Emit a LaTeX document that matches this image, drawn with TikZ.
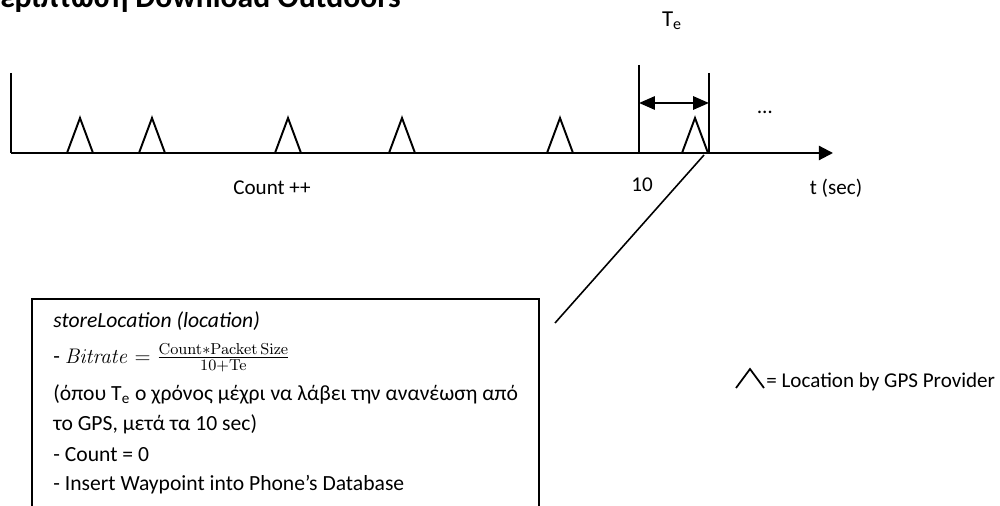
\documentclass[tikz,border=0pt]{standalone}
\usepackage[no-math]{fontspec}
\setmainfont{Carlito}
\usetikzlibrary{arrows.meta}
\begin{document}
\begin{tikzpicture}[x=0.02cm,y=-0.02cm,
  line/.style={line width=1.2pt},
  tri/.style={line width=1.1pt, line join=miter},
  lbl/.style={inner sep=0pt, font=\fontsize{12}{14}\selectfont},
  boxtxt/.style={inner sep=0pt, anchor=base west, font=\fontsize{12.3}{14}\selectfont}]
\useasboundingbox (0,0) rectangle (1000,506);
\clip (0,0) rectangle (1000,506);
% title
\node[inner sep=0pt, anchor=base west, font=\bfseries\fontsize{18}{20}\selectfont] (title) at (0,8) {ερίπτωση Download Outdoors};
% axes
\coordinate (o) at (11,153);
\coordinate (ytop) at (11,73);
\coordinate (xend) at (833,153);
\draw[line] (ytop) -- (o);
\draw[line, -{Triangle[length=8pt,width=8pt]}] (o) -- (xend);
% triangles
\foreach \n/\c in {a/80, b/152, c/288, d/402, e/560, f/695}{
  \draw[tri] (\c-13,153) -- (\c,118) -- (\c+13,153);
}
% Te markers
\coordinate (m1t) at (639,65);
\coordinate (m1b) at (639,153);
\coordinate (m2t) at (709,73);
\coordinate (m2b) at (709,153);
\draw[line] (m1t) -- (m1b);
\draw[line] (m2t) -- (m2b);
\coordinate (da) at (639,103);
\coordinate (db) at (709,103);
\draw[line, {Triangle[length=9pt,width=7.5pt]}-{Triangle[length=9pt,width=7.5pt]}] (da) -- (db);
\node[lbl, font=\fontsize{13}{15}\selectfont] (te) at (672,21) {T\textsubscript{e}};
\node[lbl] (dots) at (765,112) {\dots};
\node[lbl] (ten) at (642,185) {10};
\node[lbl] (count) at (272,188) {Count ++};
\node[lbl] (tsec) at (836,188) {t (sec)};
% connector
\coordinate (cfrom) at (704,155);
\coordinate (cto) at (555,323);
\draw[line width=0.9pt] (cfrom) -- (cto);
% box
\draw[line width=1pt] (32,520) -- (32,299) -- (539,299) -- (539,520);
\node[boxtxt] (l1) at (53,328) {\textit{storeLocation (location)}};
\node[boxtxt] (l2) at (53,363) {- {\fontsize{12.8}{15}\selectfont$\mathit{Bitrate} = \frac{\mathrm{Count}{*}\mathrm{Packet\,Size}}{\mathrm{10{+}Te}}$}};
\node[boxtxt] (l3) at (53,400) {(όπου T\textsubscript{e} ο χρόνος μέχρι να λάβει την ανανέωση από};
\node[boxtxt] (l4) at (53,430) {το GPS, μετά τα 10 sec)};
\node[boxtxt] (l5) at (53,461) {- Count = 0};
\node[boxtxt] (l6) at (53,490) {- Insert Waypoint into Phone’s Database};
% legend
\draw[tri, line width=1pt] (736,388) -- (750,369) -- (764,388);
\node[boxtxt, font=\fontsize{12}{14}\selectfont] (leg) at (766,387) {= Location by GPS Provider};
\end{tikzpicture}
\end{document}
